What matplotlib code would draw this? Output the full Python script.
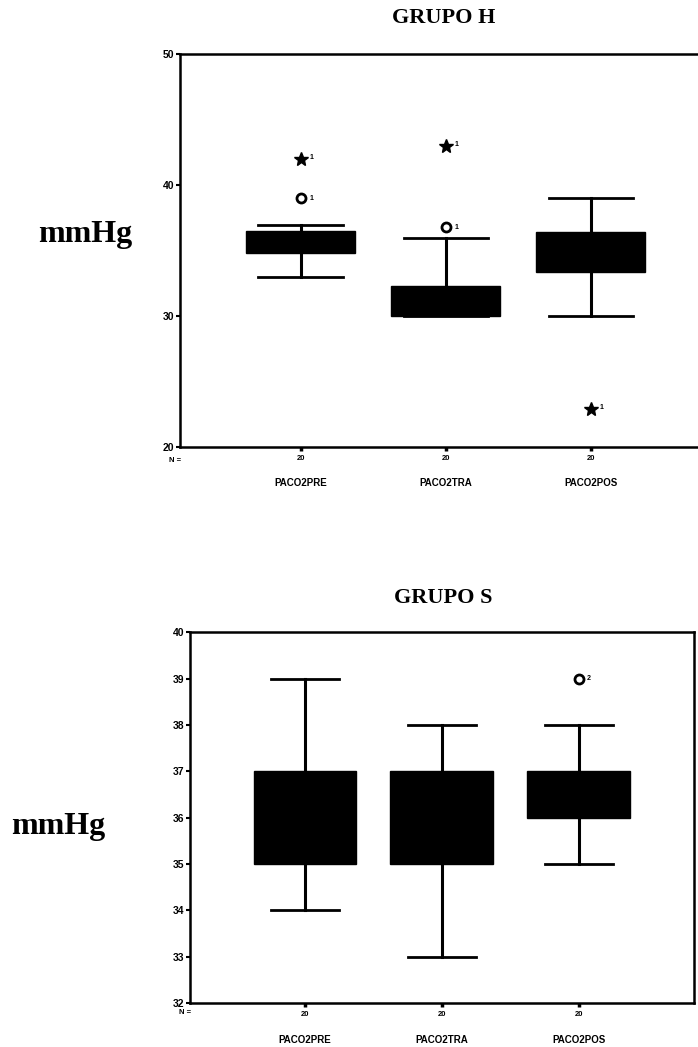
import matplotlib
matplotlib.use("Agg")
import matplotlib.pyplot as plt

# variables y tamaño de muestra
grupos = ['PACO2PRE', 'PACO2TRA', 'PACO2POS']
n_casos = [20, 20, 20]

# grupo H
h_q1 = [34.8, 30.0, 33.4]
h_med = [35.8, 31.0, 35.0]
h_q3 = [36.5, 32.3, 36.4]
h_min = [33.0, 30.0, 30.0]
h_max = [37.0, 36.0, 39.0]
h_out_x = [1, 2]          # atipicos (circulo)
h_out_y = [39.0, 36.8]
h_ext_x = [1, 2, 3]       # extremos (asterisco)
h_ext_y = [42.0, 43.0, 22.9]
h_out_lab = ['1', '1']
h_ext_lab = ['1', '1', '1']

# grupo S
s_q1 = [35.0, 35.0, 36.0]
s_med = [36.0, 36.0, 36.5]
s_q3 = [37.0, 37.0, 37.0]
s_min = [34.0, 33.0, 35.0]
s_max = [39.0, 38.0, 38.0]
s_out_x = [3]
s_out_y = [39.0]
s_out_lab = ['2']

serif = 'Liberation Serif'
sans = 'Liberation Sans'

fig = plt.figure(figsize=(6.98, 10.47), dpi=100)


def caja(ax, q1, med, q3, lo, hi, cap):
    stats = []
    for i in range(len(grupos)):
        stats.append(dict(q1=q1[i], med=med[i], q3=q3[i], whislo=lo[i], whishi=hi[i], fliers=[]))
    ax.bxp(stats, positions=[1, 2, 3], widths=0.75, patch_artist=True, showfliers=False,
           capwidths=cap,
           boxprops=dict(facecolor='black', edgecolor='black', linewidth=1),
           medianprops=dict(color='black', linewidth=1),
           whiskerprops=dict(color='black', linewidth=2.2),
           capprops=dict(color='black', linewidth=2))


def ejes(ax, ylim, yticks, nlab_y, cat_y):
    ax.set_ylim(*ylim)
    ax.set_yticks(yticks)
    ax.set_yticklabels([str(t) for t in yticks], fontfamily=sans, fontweight='bold', fontsize=7.5)
    ax.set_xticks([1, 2, 3])
    ax.set_xticklabels([str(v) for v in n_casos], fontfamily=sans, fontweight='bold', fontsize=5.5)
    ax.tick_params(axis='y', length=3, width=1.5, pad=1)
    ax.tick_params(axis='x', length=3, width=2.5, pad=3)
    for s in ax.spines.values():
        s.set_linewidth(1.8)
    ax.text(-0.01, nlab_y, 'N =', transform=ax.transAxes, ha='center', va='center',
            fontfamily=sans, fontweight='bold', fontsize=5.5)
    for i, g in enumerate(grupos):
        ax.text(i + 1, cat_y, g, transform=ax.get_xaxis_transform(), ha='center', va='center',
                fontfamily=sans, fontweight='bold', fontsize=7)


# ---- GRUPO H ----
ax1 = fig.add_axes([0.258, 0.573, 0.761, 0.375])
ax1.set_xlim(0.17, 3.83)
caja(ax1, h_q1, h_med, h_q3, h_min, h_max, 0.58)
ax1.plot(h_out_x, h_out_y, 'o', mfc='white', mec='black', mew=2, ms=6.5, ls='none')
ax1.plot(h_ext_x, h_ext_y, '*', color='black', ms=10, ls='none')
for x, y, t in zip(h_out_x, h_out_y, h_out_lab):
    ax1.text(x + 0.06, y, t, ha='left', va='center', fontsize=5, fontweight='bold', fontfamily=sans)
for x, y, t in zip(h_ext_x, h_ext_y, h_ext_lab):
    ax1.text(x + 0.06, y + 0.15, t, ha='left', va='center', fontsize=5, fontweight='bold', fontfamily=sans)
ejes(ax1, (20, 50), [20, 30, 40, 50], -0.035, -0.092)
ax1.spines['right'].set_visible(False)
fig.text(0.635, 0.983, 'GRUPO H', ha='center', va='center', fontfamily=serif,
         fontweight='bold', fontsize=16)
fig.text(0.122, 0.776, 'mmHg', ha='center', va='center', fontfamily=serif,
         fontweight='bold', fontsize=23)

# ---- GRUPO S ----
ax2 = fig.add_axes([0.272, 0.042, 0.722, 0.354])
ax2.set_xlim(0.16, 3.84)
caja(ax2, s_q1, s_med, s_q3, s_min, s_max, 0.5)
ax2.plot(s_out_x, s_out_y, 'o', mfc='white', mec='black', mew=2, ms=6.5, ls='none')
for x, y, t in zip(s_out_x, s_out_y, s_out_lab):
    ax2.text(x + 0.06, y, t, ha='left', va='center', fontsize=5, fontweight='bold', fontfamily=sans)
ejes(ax2, (32, 40), list(range(32, 41)), -0.025, -0.1)
fig.text(0.635, 0.429, 'GRUPO S', ha='center', va='center', fontfamily=serif,
         fontweight='bold', fontsize=16)
fig.text(0.083, 0.211, 'mmHg', ha='center', va='center', fontfamily=serif,
         fontweight='bold', fontsize=23)

fig.savefig('out.png', dpi=100)
